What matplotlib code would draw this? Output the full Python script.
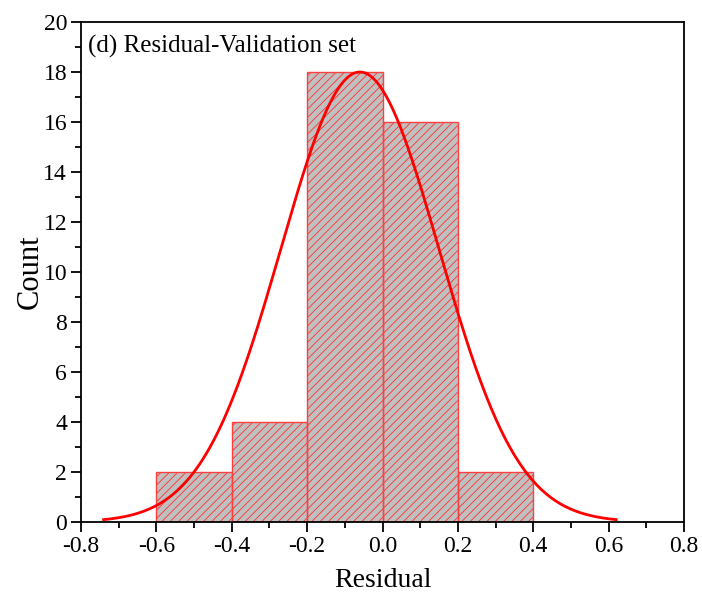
import numpy as np
import matplotlib.pyplot as plt
from matplotlib.ticker import MultipleLocator, FormatStrFormatter

plt.rcParams['font.family'] = ['Liberation Serif', 'DejaVu Serif']
plt.rcParams['hatch.linewidth'] = 0.6

# histogram bins (left edges) and counts
bin_edges = [-0.6, -0.4, -0.2, 0.0, 0.2, 0.4]
counts = [2, 4, 18, 16, 2]

# normal fit curve
fit_mean = -0.06
fit_sigma = 0.21
fit_peak = 18.0
fit_lo, fit_hi = -0.74, 0.62

fig = plt.figure(figsize=(7.02, 5.93), dpi=100)
ax = fig.add_axes([0.1154, 0.1197, 0.8590, 0.8432])

widths = np.diff(bin_edges)
ax.bar(bin_edges[:-1], counts, width=widths, align='edge',
       color='#c0c0c0', edgecolor='#ff3030', linewidth=0, hatch='////',
       zorder=2)
# outlines drawn separately so shared edges stay red
ax.bar(bin_edges[:-1], counts, width=widths, align='edge',
       fill=False, edgecolor='#ff4040', linewidth=1.0, zorder=2.5)

xs = np.linspace(fit_lo, fit_hi, 300)
ys = fit_peak * np.exp(-(xs - fit_mean) ** 2 / (2 * fit_sigma ** 2))
ax.plot(xs, ys, color='red', lw=2, zorder=3)

ax.set_xlim(-0.8, 0.8)
ax.set_ylim(0, 20)
ax.xaxis.set_major_locator(MultipleLocator(0.2))
ax.xaxis.set_minor_locator(MultipleLocator(0.1))
ax.yaxis.set_major_locator(MultipleLocator(2))
ax.yaxis.set_minor_locator(MultipleLocator(1))
ax.xaxis.set_major_formatter(FormatStrFormatter('%.1f'))
ax.tick_params(which='both', direction='out', top=False, right=False,
               width=1.3, labelsize=17)
ax.tick_params(which='major', length=7, pad=3)
ax.tick_params(which='minor', length=4)
for s in ax.spines.values():
    s.set_linewidth(1.3)

ax.set_xlabel('Residual', fontsize=20, labelpad=8)
ax.set_ylabel('Count', fontsize=22, va='baseline')
ax.yaxis.set_label_coords(-0.071, 0.5)
ax.text(0.012, 0.975, '(d) Residual-Validation set', transform=ax.transAxes,
        ha='left', va='top', fontsize=18)

fig.savefig('out.png', dpi=100)
